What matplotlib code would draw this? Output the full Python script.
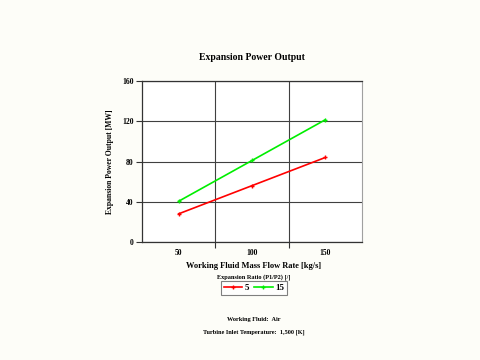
import matplotlib.pyplot as plt
import numpy as np

# data
flow_rates = ['50', '100', '150']
ratio_5 = [28, 56, 84]
ratio_15 = [40.5, 81, 121.5]
y_ticks = [0, 40, 80, 120, 160]

bg = '#FDFDF8'
serif = ['Liberation Serif', 'DejaVu Serif']

fig = plt.figure(figsize=(4.8, 3.6), dpi=100, facecolor=bg)
ax = fig.add_axes([142 / 480, 1 - 242 / 360, 220 / 480, 161 / 360])
ax.set_facecolor('white')

x = np.arange(len(flow_rates)) + 0.5
ax.plot(x, ratio_5, color='#FF0000', lw=1.2, marker='+', ms=3, mew=1, label='5')
ax.plot(x, ratio_15, color='#00EE00', lw=1.2, marker='+', ms=3, mew=1, label='15')

ax.set_xlim(0, len(flow_rates))
ax.set_ylim(0, 160)
ax.set_yticks(y_ticks)
ax.set_xticks(np.arange(1, len(flow_rates)))
ax.set_xticks(x, minor=True)
ax.set_xticklabels([])
ax.set_xticklabels(flow_rates, minor=True)
ax.tick_params(axis='x', which='major', length=4, width=0.8, color='#333333')
ax.tick_params(axis='x', which='minor', length=0, pad=5)
ax.tick_params(axis='y', length=4, width=0.8, color='#333333', pad=2)
for lab in ax.get_xticklabels(minor=True) + ax.get_yticklabels():
    lab.set_fontfamily(serif)
    lab.set_fontweight('bold')
    lab.set_fontsize(5.5)

ax.grid(True, which='major', color='#404040', lw=0.8)
ax.set_axisbelow(True)
for side in ['left', 'bottom', 'top']:
    ax.spines[side].set_color('#333333')
    ax.spines[side].set_linewidth(0.9)
ax.spines['right'].set_color('#A0A0A0')

ax.set_ylabel('Expansion Power Output [MW]', fontfamily=serif, fontweight='bold',
              fontsize=5.5, labelpad=6)

fig.text(252 / 480, 1 - 57 / 360, 'Expansion Power Output', fontfamily=serif,
         fontweight='bold', fontsize=7, ha='center', va='center')
fig.text(254 / 480, 1 - 266 / 360, 'Working Fluid Mass Flow Rate [kg/s]',
         fontfamily=serif, fontweight='bold', fontsize=6, ha='center', va='center')

fig.text(254 / 480, 1 - 277 / 360, 'Expansion Ratio (P1/P2) [/]', fontfamily=serif,
         fontweight='bold', fontsize=4.5, ha='center', va='center')
leg = fig.legend(loc='center', bbox_to_anchor=(254 / 480, 1 - 288 / 360),
                 ncol=2, frameon=True, fancybox=False,
                 handlelength=2, handletextpad=0.3, columnspacing=0.6,
                 borderpad=0.3, borderaxespad=0,
                 prop={'family': serif, 'weight': 'bold', 'size': 6.5})
leg.get_frame().set_edgecolor('#606060')
leg.get_frame().set_linewidth(0.8)

fig.text(254 / 480, 1 - 320 / 360, 'Working Fluid:  Air', fontfamily=serif,
         fontweight='bold', fontsize=4.5, ha='center', va='center')
fig.text(254 / 480, 1 - 332 / 360, 'Turbine Inlet Temperature:  1,500 [K]',
         fontfamily=serif, fontweight='bold', fontsize=4.5, ha='center', va='center')

fig.savefig('out.png', dpi=100, facecolor=bg)
